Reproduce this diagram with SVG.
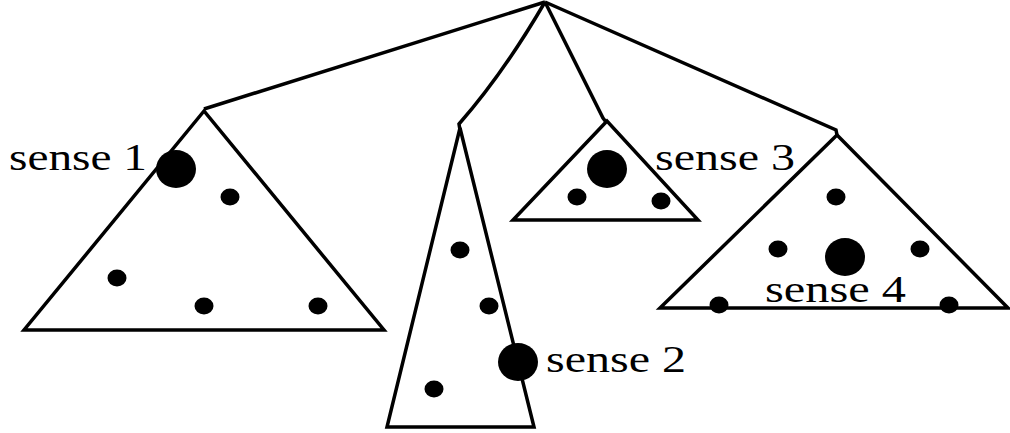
<svg xmlns="http://www.w3.org/2000/svg" width="1010" height="433" viewBox="0 0 1010 433">
<style>
.edge{fill:none;stroke:#000;stroke-width:3.5;stroke-linejoin:miter}
.tri{fill:#fff;stroke:#000;stroke-width:3.5;stroke-linejoin:miter}
.dot{fill:#000}
.lbl{font-family:"Liberation Serif","Times New Roman",serif;font-size:38px;fill:#000}
</style>
<rect width="1010" height="433" fill="#fff"/>
<g id="connectors">
<path class="edge" d="M545,2 L204,109"/>
<path class="edge" d="M545,2 Q503,74 459,124 L460,130"/>
<path class="edge" d="M545,2 L603,118 L606,122"/>
<path class="edge" d="M545,2 L836,130 L837,135"/>
</g>
<g id="node1">
<polygon class="tri" points="204,111 24,330 384,330"/>
<ellipse class="dot" cx="176" cy="169" rx="20" ry="19"/>
<ellipse class="dot" cx="230" cy="197" rx="9.5" ry="8.5"/>
<ellipse class="dot" cx="117" cy="278" rx="9.5" ry="8.5"/>
<ellipse class="dot" cx="204" cy="306" rx="9.5" ry="8.5"/>
<ellipse class="dot" cx="318" cy="306" rx="9.5" ry="8.5"/>
<text class="lbl" x="9" y="170" textLength="138" lengthAdjust="spacingAndGlyphs">sense 1</text>
</g>
<g id="node2">
<polygon class="tri" points="460,128 387,427 534,427"/>
<ellipse class="dot" cx="460" cy="250" rx="9.5" ry="8.5"/>
<ellipse class="dot" cx="489" cy="306" rx="9.5" ry="8.5"/>
<ellipse class="dot" cx="434" cy="389" rx="9.5" ry="8.5"/>
<ellipse class="dot" cx="518" cy="362" rx="20" ry="19"/>
<text class="lbl" x="546" y="372" textLength="140" lengthAdjust="spacingAndGlyphs">sense 2</text>
</g>
<g id="node3">
<polygon class="tri" points="607,121 513,220 698,220"/>
<ellipse class="dot" cx="607" cy="169" rx="20" ry="19"/>
<ellipse class="dot" cx="577" cy="197" rx="9.5" ry="8.5"/>
<ellipse class="dot" cx="661" cy="201" rx="9.5" ry="8.5"/>
<text class="lbl" x="655" y="170" textLength="140" lengthAdjust="spacingAndGlyphs">sense 3</text>
</g>
<g id="node4">
<polygon class="tri" points="837,135 660,308 1008,308"/>
<ellipse class="dot" cx="836" cy="197" rx="9.5" ry="8.5"/>
<ellipse class="dot" cx="778" cy="249" rx="9.5" ry="8.5"/>
<ellipse class="dot" cx="920" cy="249" rx="9.5" ry="8.5"/>
<ellipse class="dot" cx="845" cy="257" rx="20" ry="19"/>
<ellipse class="dot" cx="719" cy="305" rx="9.5" ry="8.5"/>
<ellipse class="dot" cx="949" cy="305" rx="9.5" ry="8.5"/>
<text class="lbl" x="765" y="302" textLength="141" lengthAdjust="spacingAndGlyphs">sense 4</text>
</g>
</svg>
